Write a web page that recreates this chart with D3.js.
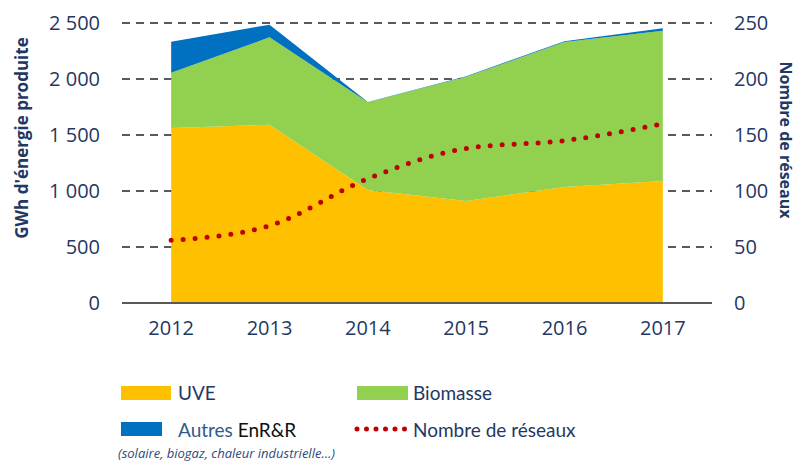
<!DOCTYPE html>
<html>
<head>
<meta charset="utf-8">
<script src="https://cdn.jsdelivr.net/npm/d3@7"></script>
<style>
  body { margin: 0; background: #fff; }
  text { font-family: "Open Sans", "Noto Sans", sans-serif; }
  .leg { font-family: Lato, "Open Sans", sans-serif; }
</style>
</head>
<body>
<div id="chart"></div>
<script>
// Data
const years = ['2012', '2013', '2014', '2015', '2016', '2017'];
const uve = [1562, 1592, 1009, 911, 1036, 1089];
const biomasse = [494, 780, 783, 1109, 1294, 1342];
const autres = [277, 113, 3, 5, 8, 22];
const reseaux = [56, 69, 111, 138, 145, 160];
const leftTicks = [0, 500, 1000, 1500, 2000, 2500];
const rightTicks = [0, 50, 100, 150, 200, 250];

const W = 797, H = 463;
const margin = { left: 122, right: 85, top: 23, bottom: 160 };
const width = W - margin.left - margin.right;   // 590
const height = H - margin.top - margin.bottom;  // 280

const navy = '#1F3864';
const colors = { uve: '#FFC000', bio: '#92D050', autres: '#0070C0', line: '#C00000' };

const svg = d3.select('#chart')
    .append('svg')
    .attr('width', W)
    .attr('height', H);

const g = svg.append('g')
    .attr('transform', `translate(${margin.left},${margin.top})`);

const x = d3.scalePoint()
    .domain(years)
    .range([0, width])
    .padding(0.5);

const y = d3.scaleLinear().domain([0, 2500]).range([height, 0]);
const y2 = d3.scaleLinear().domain([0, 250]).range([height, 0]);

// Dashed grid lines (behind areas)
g.append('g')
    .selectAll('line')
    .data(leftTicks.filter(d => d > 0))
    .join('line')
    .attr('x1', 0)
    .attr('x2', width)
    .attr('y1', d => y(d))
    .attr('y2', d => y(d))
    .attr('stroke', '#595959')
    .attr('stroke-width', 2)
    .attr('stroke-dasharray', '8 6');

// Stacked areas
const table = years.map((yr, i) => ({ year: yr, uve: uve[i], bio: biomasse[i], autres: autres[i] }));
const stack = d3.stack().keys(['uve', 'bio', 'autres']);
const series = stack(table);

const area = d3.area()
    .x(d => x(d.data.year))
    .y0(d => y(d[0]))
    .y1(d => y(d[1]));

g.append('g')
    .selectAll('path')
    .data(series)
    .join('path')
    .attr('d', area)
    .attr('fill', d => colors[d.key]);

// Baseline
g.append('line')
    .attr('x1', 0)
    .attr('x2', width)
    .attr('y1', height)
    .attr('y2', height)
    .attr('stroke', '#595959')
    .attr('stroke-width', 2);

// Nombre de réseaux - dotted smooth line
const line = d3.line()
    .x((d, i) => x(years[i]))
    .y(d => y2(d))
    .curve(d3.curveMonotoneX);

g.append('path')
    .datum(reseaux)
    .attr('d', line)
    .attr('fill', 'none')
    .attr('stroke', colors.line)
    .attr('stroke-width', 5)
    .attr('stroke-linecap', 'round')
    .attr('stroke-dasharray', '0 12');

// Left axis labels
const fmt = d => d3.format(',')(d).replace(/,/g, ' ');
g.append('g')
    .selectAll('text')
    .data(leftTicks)
    .join('text')
    .attr('x', -22)
    .attr('y', d => y(d))
    .attr('dy', '0.35em')
    .attr('text-anchor', 'end')
    .attr('fill', navy)
    .style('font-size', '20px')
    .text(fmt);

// Right axis labels
g.append('g')
    .selectAll('text')
    .data(rightTicks)
    .join('text')
    .attr('x', width + 22)
    .attr('y', d => y2(d))
    .attr('dy', '0.35em')
    .attr('text-anchor', 'start')
    .attr('fill', navy)
    .style('font-size', '20px')
    .text(d => d);

// X labels
g.append('g')
    .selectAll('text')
    .data(years)
    .join('text')
    .attr('x', d => x(d))
    .attr('y', height + 32)
    .attr('text-anchor', 'middle')
    .attr('fill', navy)
    .style('font-size', '20px')
    .text(d => d);

// Axis titles
svg.append('text')
    .attr('transform', 'translate(28,138) rotate(-90)')
    .attr('text-anchor', 'middle')
    .attr('fill', navy)
    .style('font-size', '17px')
    .style('font-weight', 'bold')
    .text("GWh d'énergie produite");

svg.append('text')
    .attr('transform', 'translate(780,140) rotate(90)')
    .attr('text-anchor', 'middle')
    .attr('fill', navy)
    .style('font-size', '16px')
    .style('font-weight', 'bold')
    .text('Nombre de réseaux');

// Legend
const legend = svg.append('g');
const swatch = (x0, y0, w, c) => legend.append('rect')
    .attr('x', x0).attr('y', y0).attr('width', w).attr('height', 14).attr('fill', c);
const label = (x0, y0, t) => legend.append('text')
    .attr('class', 'leg')
    .attr('x', x0).attr('y', y0).attr('fill', navy).style('font-size', '19px').text(t);

swatch(121, 386, 50, colors.uve);
label(178, 400, 'UVE');
swatch(357, 386, 51, colors.bio);
label(413, 400, 'Biomasse');
swatch(121, 422, 41, colors.autres);
const autresText = legend.append('text')
    .attr('class', 'leg')
    .attr('x', 178).attr('y', 437).style('font-size', '19px');
autresText.append('tspan').attr('fill', '#2E5C8A').text('Autres ');
autresText.append('tspan').attr('fill', '#111').text('EnR&R');

legend.append('line')
    .attr('x1', 357).attr('x2', 405.5)
    .attr('y1', 429).attr('y2', 429)
    .attr('stroke', colors.line)
    .attr('stroke-width', 5)
    .attr('stroke-linecap', 'round')
    .attr('stroke-dasharray', '0 9.5');
label(413, 437, 'Nombre de réseaux');

legend.append('text')
    .attr('x', 118).attr('y', 458)
    .attr('fill', '#2E4A7A')
    .style('font-size', '13px')
    .style('font-style', 'italic')
    .text('(solaire, biogaz, chaleur  industrielle…)');
</script>
</body>
</html>
